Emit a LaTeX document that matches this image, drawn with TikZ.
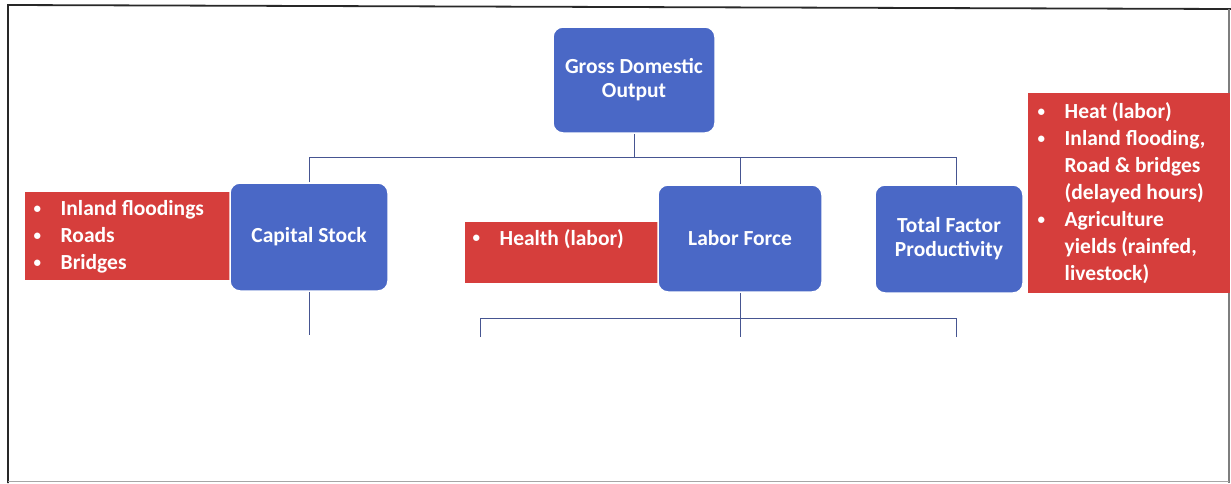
\documentclass[tikz,border=0pt]{standalone}
\usepackage{fontspec}
\setmainfont{Carlito}
\definecolor{boxblue}{RGB}{74,104,198}
\definecolor{boxred}{RGB}{214,62,60}
\definecolor{linkc}{RGB}{70,85,145}
\definecolor{framec}{RGB}{40,40,40}
\newcommand\bul{\makebox[28.5pt][l]{\hspace{1.5pt}\raisebox{0.25ex}{\scalebox{0.7}{\textbullet}}}}
\newcommand\listfont{\fontsize{21.5}{27}\selectfont\bfseries}
\newcommand\boxfont{\fontsize{21.5}{24}\selectfont\bfseries}
\begin{document}
\begin{tikzpicture}[x=1pt,y=-1pt,
  bluebox/.style={rectangle, rounded corners=10pt, fill=boxblue, draw=white,
    line width=1.5pt, text=white, align=center, font=\boxfont, inner sep=2pt},
  redbox/.style={rectangle, fill=boxred, draw=none, inner sep=0pt},
  redtext/.style={text=white, font=\listfont, inner sep=0pt, anchor=north west},
  link/.style={draw=linkc, line width=1pt}]
\useasboundingbox (0,0) rectangle (1231,483);
% frame
\draw[framec, line width=1.8pt] (8,483) -- (8,5) -- (1231,9);
\draw[framec!60, line width=1.2pt] (1229,9) -- (1229,483);
\draw[black!35, line width=1pt] (8,481) -- (1229,481);

% red boxes (behind)
\node[redbox, minimum width=207pt, minimum height=88pt] (capr) at (128.5,236) {};
\node[redbox, minimum width=202pt, minimum height=61pt] (labr) at (566,252.5) {};
\node[redbox, minimum width=202pt, minimum height=200pt] (tfpr) at (1129,193) {};

% blue boxes
\node[bluebox, minimum width=162pt, minimum height=106pt] (gdo) at (634,80) {Gross Domestic\\Output};
\node[bluebox, minimum width=158pt, minimum height=108pt] (cap) at (309,237) {Capital Stock};
\node[bluebox, minimum width=164pt, minimum height=107pt] (lab) at (740,238.5) {Labor Force};
\node[bluebox, minimum width=148pt, minimum height=108pt] (tfp) at (949,239) {Total Factor\\Productivity};

% red texts
\node[redtext] (capt) at (32,196.5) {\begin{tabular}{@{}l@{}l@{}}
\bul & Inland floodings\\
\bul & Roads\\
\bul & Bridges
\end{tabular}};
\node[redtext] (labt) at (471,226) {\begin{tabular}{@{}l@{}l@{}}
\bul & Health (labor)
\end{tabular}};
\node[redtext] (tfpt) at (1036,99.5) {\begin{tabular}{@{}l@{}l@{}}
\bul & Heat (labor)\\
\bul & Inland flooding,\\
 & Road \& bridges\\
 & (delayed hours)\\
\bul & Agriculture\\
 & yields (rainfed,\\
 & livestock)
\end{tabular}};

% upper connectors
\coordinate (j1) at (634,157);
\coordinate (tfpin) at (956,185);
\draw[link] (gdo.south) -- (j1);
\draw[link] (cap.north) |- (j1);
\draw[link] (lab.north) |- (j1);
\draw[link] (tfpin) |- (j1);

% lower connectors
\coordinate (c1) at (309,335);
\coordinate (j2) at (740,318);
\coordinate (d1) at (480,337);
\coordinate (d2) at (740,337);
\coordinate (d3) at (956,337);
\draw[link] (cap.south) -- (c1);
\draw[link] (lab.south) -- (j2);
\draw[link] (d1) |- (j2);
\draw[link] (j2) -- (d2);
\draw[link] (d3) |- (j2);
\end{tikzpicture}
\end{document}
